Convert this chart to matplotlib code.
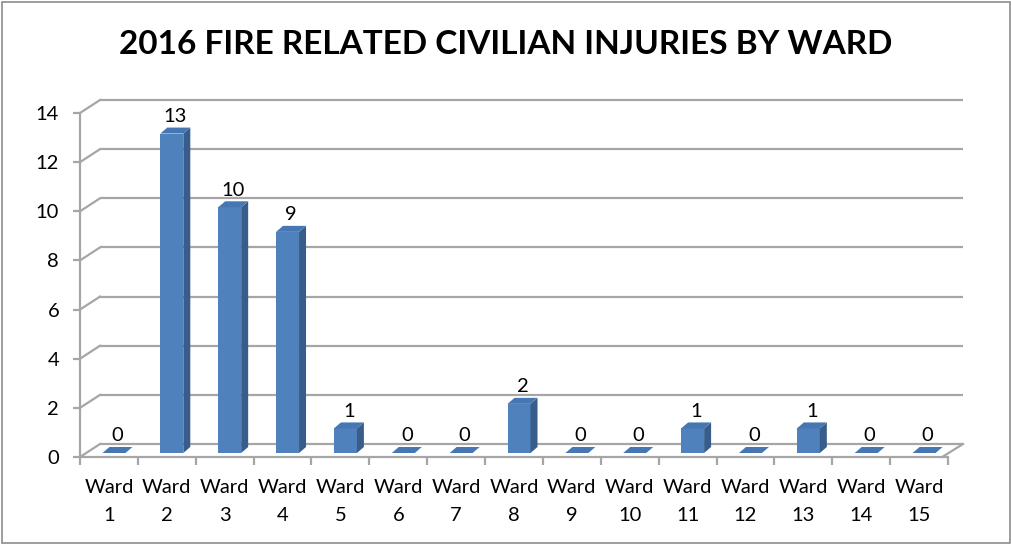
import matplotlib
matplotlib.use("Agg")
import matplotlib.pyplot as plt
from matplotlib.patches import Polygon, Rectangle

plt.rcParams['font.family'] = ['Lato', 'DejaVu Sans']

wards = ["Ward\n1", "Ward\n2", "Ward\n3", "Ward\n4", "Ward\n5", "Ward\n6", "Ward\n7", "Ward\n8",
         "Ward\n9", "Ward\n10", "Ward\n11", "Ward\n12", "Ward\n13", "Ward\n14", "Ward\n15"]
injuries = [0, 13, 10, 9, 1, 0, 0, 2, 0, 0, 1, 0, 1, 0, 0]
yticks = [0, 2, 4, 6, 8, 10, 12, 14]
title = "2016 FIRE RELATED CIVILIAN INJURIES BY WARD"

W, H = 1011, 544
fig = plt.figure(figsize=(W / 100, H / 100), dpi=100)
fig.patch.set_facecolor("white")
fig.patches.append(Rectangle((1.5 / W, 1.5 / H), (W - 3) / W, (H - 3) / H, transform=fig.transFigure,
                             fill=False, edgecolor="#8c8c8c", linewidth=1.2))

x0p, x1p, y0p, y1p = 80, 948, 457, 113
ax = fig.add_axes([x0p / W, (H - y0p) / H, (x1p - x0p) / W, (y0p - y1p) / H])
n = len(injuries)
ax.set_xlim(-0.5, n - 0.5)
ax.set_ylim(0, 14)
ax.set_facecolor("none")

ux = (x1p - x0p) / n          # px per category
uy = (y0p - y1p) / 14.0       # px per unit
bdx, bdy = 20 / ux, 13 / uy   # back wall offset in data units
grid_c = "#a6a6a6"

# back wall gridlines with left-wall connectors
for v in yticks:
    ax.plot([-0.5 + bdx, n - 0.5 + bdx * 0.75], [v + bdy, v + bdy], color=grid_c, lw=1.6,
            clip_on=False, zorder=1, solid_capstyle="butt")
    ax.plot([-0.5, -0.5 + bdx], [v, v + bdy], color=grid_c, lw=1.6, clip_on=False, zorder=1)
# floor right edge
ax.plot([n - 0.5 - 0.1, n - 0.5 + bdx * 0.75], [0, bdy], color=grid_c, lw=1.6, clip_on=False, zorder=1)

# bars (pseudo 3D)
fdx, fdy = 5 / ux, 4 / uy     # front face offset from floor front
ddx, ddy = 7 / ux, 6 / uy     # bar depth
bw = 23 / ux
front_c, side_c, top_c = "#4f81bd", "#385d8a", "#4677b3"
for i, v in enumerate(injuries):
    xl = i - bw / 2 + fdx
    xr = xl + bw
    yb = fdy
    yt = v + fdy
    if v > 0:
        ax.add_patch(Rectangle((xl, yb), bw, v, facecolor=front_c, edgecolor="none", zorder=3))
        ax.add_patch(Polygon([(xr, yb), (xr + ddx, yb + ddy), (xr + ddx, yt + ddy), (xr, yt)],
                             closed=True, facecolor=side_c, edgecolor="none", zorder=3))
    ax.add_patch(Polygon([(xl, yt), (xr, yt), (xr + ddx, yt + ddy), (xl + ddx, yt + ddy)],
                         closed=True, facecolor=top_c, edgecolor="none", zorder=4))
    ax.annotate(str(v), (i + fdx + ddx / 2, yt + ddy), xytext=(0, 2), textcoords="offset points",
                ha="center", va="bottom", fontsize=14.5, color="black", zorder=5)

# axes styling
for s in ["top", "right"]:
    ax.spines[s].set_visible(False)
for s in ["left", "bottom"]:
    ax.spines[s].set_color(grid_c)
    ax.spines[s].set_linewidth(1.6)
ax.set_yticks(yticks)
ax.set_yticklabels([str(t) for t in yticks], fontsize=14.5)
ax.tick_params(axis="y", length=5, width=1.6, color=grid_c, pad=10)
ax.set_xticks(range(n))
ax.set_xticklabels(wards, fontsize=14.5, linespacing=1.75)
ax.tick_params(axis="x", length=0, pad=16)
ax.set_xticks([k - 0.5 for k in range(n + 1)], minor=True)
ax.tick_params(axis="x", which="minor", length=6, width=1.6, color=grid_c)

fig.text(0.5, (H - 45) / H, title, ha="center", va="center", fontsize=24, fontweight="bold")

fig.savefig("out.png", dpi=100)
